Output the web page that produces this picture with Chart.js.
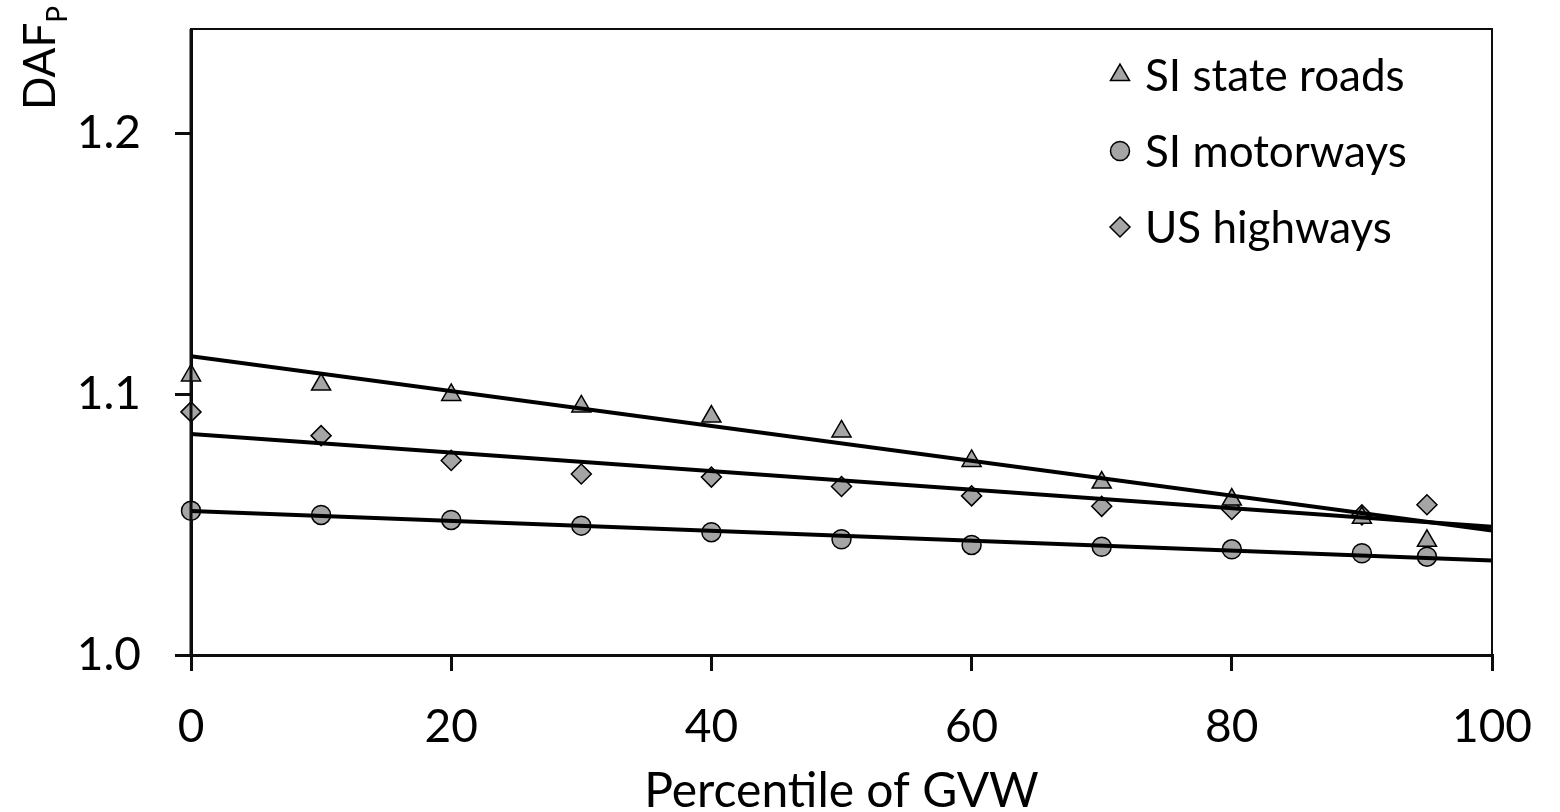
<!DOCTYPE html>
<html>
<head>
<meta charset="utf-8">
<script src="https://cdn.jsdelivr.net/npm/chart.js@4.4.1/dist/chart.umd.min.js"></script>
<style>
  html, body { margin: 0; padding: 0; background: #fff; }
  #wrap { width: 1560px; height: 812px; }
</style>
</head>
<body>
<div id="wrap"><canvas id="chartDaf" width="1560" height="812"></canvas></div>
<script>
// percentiles of gross vehicle weight and the DAF values per road type
const percentiles = [0, 10, 20, 30, 40, 50, 60, 70, 80, 90, 95];
const stateRoads = [1.1072, 1.1037, 1.0997, 1.0953, 1.0914, 1.0857, 1.0744, 1.0661, 1.0596, 1.0526, 1.0438];
const motorways = [1.0553, 1.0537, 1.0518, 1.0496, 1.0471, 1.0444, 1.0422, 1.0415, 1.0405, 1.0390, 1.0377];
const usHighways = [1.0932, 1.0841, 1.0746, 1.0694, 1.0682, 1.0646, 1.0610, 1.0570, 1.0558, 1.0537, 1.0576];

// linear trend lines, end points at 0 and 100
const trendX = [0, 100];
const trendState = [1.1145, 1.0477];
const trendMotorways = [1.0552, 1.0362];
const trendUs = [1.0847, 1.0492];

const xTicks = [0, 20, 40, 60, 80, 100];
const yTicks = [1.0, 1.1, 1.2];

const FONT = 'Lato';
const MARKER_FILL = '#a5a5a5';

const toPoints = (xs, ys) => xs.map((x, i) => ({ x: x, y: ys[i] }));

function seriesSet(label, values, style, radius) {
  return {
    type: 'scatter',
    label: label,
    data: toPoints(percentiles, values),
    pointStyle: style,
    pointRadius: radius,
    pointHoverRadius: radius,
    pointBackgroundColor: MARKER_FILL,
    pointBorderColor: '#000',
    pointBorderWidth: 1.5,
    clip: false,
    order: 2
  };
}

function trendSet(values) {
  return {
    type: 'line',
    trend: true,
    data: toPoints(trendX, values),
    borderColor: '#000',
    borderWidth: 4,
    pointRadius: 0,
    fill: false,
    order: 1
  };
}

// legend drawn inside the plot, top right
const innerLegend = {
  id: 'innerLegend',
  afterDraw(chart) {
    const ctx = chart.ctx;
    ctx.save();
    ctx.font = '44px ' + FONT;
    ctx.textBaseline = 'middle';
    ctx.textAlign = 'left';
    let y = 75;
    chart.data.datasets.filter(d => !d.trend).forEach(d => {
      ctx.fillStyle = MARKER_FILL;
      ctx.strokeStyle = '#000';
      ctx.lineWidth = 1.5;
      Chart.helpers.drawPoint(ctx, { pointStyle: d.pointStyle, radius: d.pointRadius, borderWidth: 1.5, rotation: 0 }, 1120, y);
      ctx.fillStyle = '#000';
      ctx.fillText(d.label, 1145, y + 2);
      y += 76;
    });
    ctx.restore();
  }
};

// box around the plot (left axis redrawn over the markers) plus both axis titles
const frameAndTitles = {
  id: 'frameAndTitles',
  afterDraw(chart) {
    const ctx = chart.ctx;
    const a = chart.chartArea;
    ctx.save();
    ctx.strokeStyle = '#0d0d0d';
    ctx.lineWidth = 2;
    ctx.beginPath();
    ctx.moveTo(a.left, a.top);
    ctx.lineTo(a.right, a.top);
    ctx.lineTo(a.right, a.bottom);
    ctx.stroke();
    ctx.lineWidth = 3;
    ctx.beginPath();
    ctx.moveTo(a.left, a.top);
    ctx.lineTo(a.left, a.bottom);
    ctx.stroke();

    ctx.fillStyle = '#000';
    ctx.textBaseline = 'alphabetic';
    ctx.textAlign = 'center';
    ctx.font = '48px ' + FONT;
    ctx.fillText('Percentile of GVW', (a.left + a.right) / 2, 807);

    ctx.translate(55, 110);
    ctx.rotate(-Math.PI / 2);
    ctx.textAlign = 'left';
    ctx.font = '44px ' + FONT;
    ctx.fillText('DAF', 0, 0);
    const w = ctx.measureText('DAF').width;
    ctx.font = '28px ' + FONT;
    ctx.fillText('P', w, 12);
    ctx.restore();
  }
};

function axisStyle() {
  return {
    border: { display: true, color: '#0d0d0d', width: 3 },
    grid: { drawOnChartArea: false, drawTicks: true, tickLength: 16, color: '#0d0d0d', lineWidth: 3 },
  };
}

function draw() {
  const xAxis = axisStyle();
  const yAxis = axisStyle();

  new Chart(document.getElementById('chartDaf'), {
    data: {
      datasets: [
        seriesSet('SI state roads', stateRoads, 'triangle', 11),
        seriesSet('SI motorways', motorways, 'circle', 9.5),
        seriesSet('US highways', usHighways, 'rectRot', 10),
        trendSet(trendState),
        trendSet(trendMotorways),
        trendSet(trendUs)
      ]
    },
    options: {
      responsive: false,
      animation: false,
      layout: { padding: { top: 29, right: 68, left: 0, bottom: 0 } },
      plugins: { legend: { display: false }, tooltip: { enabled: false } },
      scales: {
        x: {
          type: 'linear',
          position: 'bottom',
          min: 0,
          max: 100,
          border: xAxis.border,
          grid: xAxis.grid,
          ticks: { color: '#000', font: { family: FONT, size: 46 }, padding: 29, maxRotation: 0 },
          afterBuildTicks: s => { s.ticks = xTicks.map(v => ({ value: v })); },
          afterFit: s => { s.height = 157; s.paddingLeft = 0; s.paddingRight = 0; }
        },
        y: {
          type: 'linear',
          position: 'left',
          min: 1.0,
          max: 1.24,
          border: yAxis.border,
          grid: yAxis.grid,
          ticks: {
            color: '#000',
            font: { family: FONT, size: 46 },
            padding: 34,
            callback: v => v.toFixed(1)
          },
          afterBuildTicks: s => { s.ticks = yTicks.map(v => ({ value: v })); },
          afterFit: s => { s.width = 191; s.paddingTop = 0; s.paddingBottom = 0; }
        }
      }
    },
    plugins: [innerLegend, frameAndTitles]
  });
}

document.fonts.load('46px ' + FONT).then(draw, draw);
</script>
</body>
</html>
